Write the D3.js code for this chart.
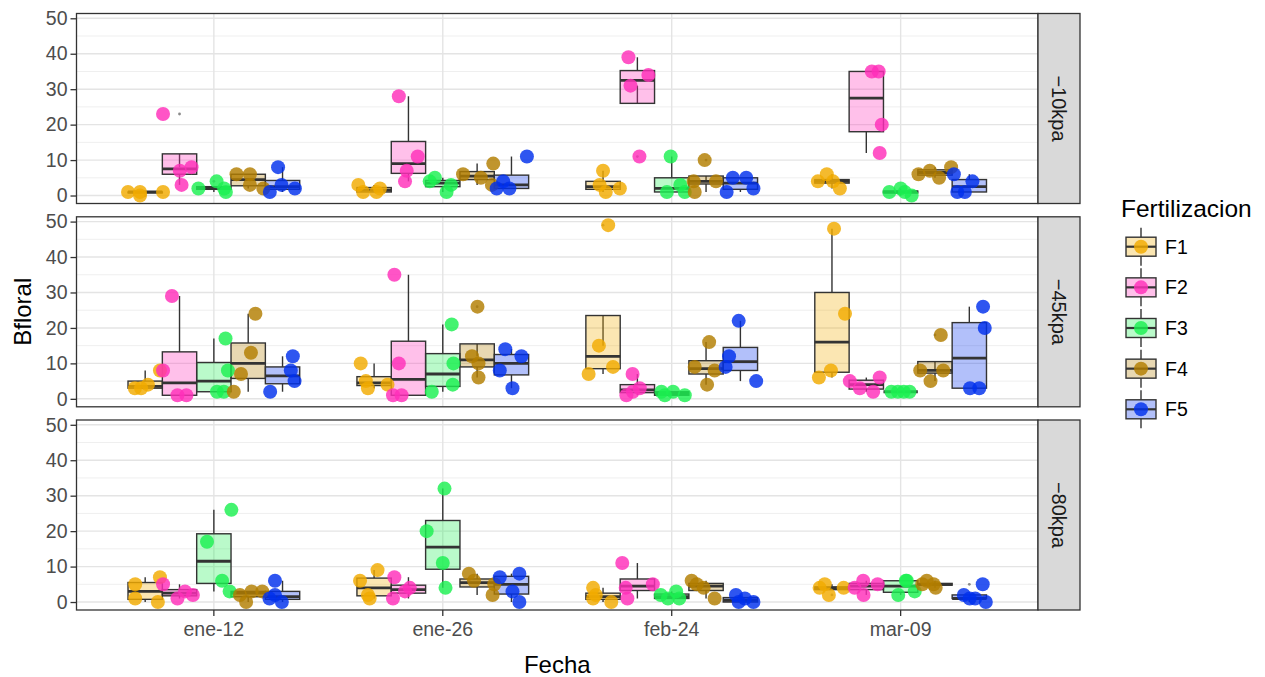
<!DOCTYPE html>
<html>
<head>
<meta charset="utf-8">
<title>Bfloral por fecha</title>
<style>
  body { margin: 0; background: #fff; }
  text { font-family: "Liberation Sans", Arial, sans-serif; }
</style>
</head>
<body>
<div id="chart"></div>
<script src="https://cdn.jsdelivr.net/npm/d3@7"></script>
<script>

// categories
var fechas = ["ene-12", "ene-26", "feb-24", "mar-09"];
var fertis = ["F1", "F2", "F3", "F4", "F5"];
var paneles = ["\u221210kpa", "\u221245kpa", "\u221280kpa"];
var yTicks = [0, 10, 20, 30, 40, 50];
var yMinor = [5, 15, 25, 35, 45];
var colores = ["#F2AB00", "#FF2EBA", "#1BF051", "#B27E00", "#0030ED"];

// Bfloral values, [fecha][F1..F5]
var bf10 = [
  [[1, 1, 0, 1], [23, 7, 8, 3], [2, 4, 1, 2], [6, 6, 3, 2], [8, 1, 3, 2]],
  [[3, 1, 1, 2], [28, 11, 7, 4], [5, 3, 1, 4], [6, 9, 5, 3], [11, 4, 2, 2]],
  [[7, 1, 2, 3], [39, 34, 31, 11], [11, 1, 3, 1], [10, 4, 1, 4], [5, 5, 1, 2]],
  [[6, 4, 4, 2], [35, 35, 20, 12], [1, 2, 0, 1], [6, 7, 5, 8], [6, 4, 1, 1]]
];
var bf45 = [
  [[3, 4, 8, 3], [29, 1, 1, 8], [17, 8, 2, 2], [24, 13, 7, 2], [12, 8, 5, 2]],
  [[10, 5, 3, 4], [35, 10, 1, 1], [21, 10, 4, 2], [26, 12, 10, 6], [14, 12, 8, 3]],
  [[49, 15, 7, 9], [7, 3, 1, 2], [2, 2, 1, 1], [16, 9, 8, 4], [22, 12, 9, 5]],
  [[48, 24, 6, 8], [6, 5, 3, 2], [2, 2, 2, 2], [18, 8, 8, 5], [26, 20, 3, 3]]
];
var bf80 = [
  [[5, 1, 7, 0], [5, 1, 3, 2], [17, 26, 6, 3], [2, 0, 3, 3], [6, 2, 1, 0]],
  [[6, 9, 2, 1], [7, 4, 1, 3], [32, 20, 11, 4], [8, 6, 5, 2], [7, 8, 3, 0]],
  [[4, 1, 0, 2], [11, 4, 1, 5], [2, 3, 1, 1], [6, 4, 1, 5], [2, 0, 0, 1]],
  [[5, 2, 4, 4], [6, 4, 5, 2], [6, 2, 3, 6], [6, 5, 4, 5], [5, 2, 1, 1, 0]]
];

// horizontal jitter of each point, in box widths
var jit10 = [
  [[-0.5, -0.15, -0.15, 0.52], [-0.48, 0.01, 0.35, 0.06], [-0.45, 0.08, 0.35, 0.3], [-0.34, 0.05, 0.05, 0.44], [-0.13, -0.37, -0.03, 0.36]],
  [[-0.46, -0.32, 0.07, 0.17], [-0.28, 0.27, -0.05, -0.1], [-0.23, 0.24, 0.11, -0.38], [-0.41, 0.47, 0.11, 0.43], [0.45, -0.24, -0.43, -0.06]],
  [[0, 0.08, 0.49, -0.1], [-0.26, 0.32, -0.2, 0.06], [-0.03, -0.14, 0.25, 0.38], [-0.04, -0.36, -0.33, 0.29], [-0.22, 0.17, -0.4, 0.38]],
  [[-0.15, -0.41, 0.03, 0.23], [0.16, 0.36, 0.45, 0.39], [-0.33, 0, 0.32, 0.12], [-0.48, -0.15, 0.12, 0.47], [-0.45, 0.09, -0.35, -0.13]]
];
var jit45 = [
  [[-0.12, 0.08, 0.43, -0.3], [-0.22, -0.06, 0.2, -0.48], [0.34, 0.41, 0.09, 0.29], [0.21, 0.08, -0.21, -0.42], [0.3, 0.24, 0.35, -0.36]],
  [[-0.39, -0.24, -0.18, 0.39], [-0.41, -0.28, -0.45, -0.2], [0.26, 0.31, 0.29, -0.32], [0.01, -0.15, 0.04, 0.04], [-0.18, 0.29, -0.34, 0.03]],
  [[0.15, -0.12, -0.42, 0.29], [-0.14, 0.07, -0.32, -0.13], [-0.3, 0.04, 0.38, -0.2], [0.09, -0.33, 0.25, 0.03], [-0.05, -0.33, -0.43, 0.46]],
  [[0.06, 0.38, -0.38, -0.03], [0.39, -0.48, -0.19, 0.2], [-0.27, 0.26, -0.08, 0.09], [0.17, -0.43, 0.24, -0.13], [0.4, 0.45, 0.02, 0.29]]
];
var jit80 = [
  [[-0.29, -0.29, 0.43, 0.37], [-0.48, -0.06, 0.16, 0.39], [-0.2, 0.51, 0.24, 0.46], [-0.24, -0.06, 0.1, 0.41], [-0.22, -0.22, -0.38, -0.02]],
  [[-0.41, 0.1, -0.18, -0.13], [-0.41, 0.04, -0.45, -0.1], [0.05, -0.47, 0, 0.08], [-0.24, -0.09, 0.5, 0.45], [-0.34, 0.23, 0.03, 0.23]],
  [[-0.29, -0.29, 0.24, -0.21], [-0.44, -0.34, -0.29, 0.45], [-0.32, 0.13, 0.22, -0.11], [-0.42, -0.07, 0.25, -0.27], [-0.13, -0.05, 0.38, 0.13]],
  [[-0.21, -0.09, 0.34, -0.36], [-0.09, -0.34, 0.33, -0.08], [0.18, -0.07, 0.41, 0.15], [-0.24, -0.04, 0.02, -0.37], [0.39, -0.16, 0.17, 0.01, 0.48]]
];

var valores = [bf10, bf45, bf80];
var jitters = [jit10, jit45, jit80];

// layout
var W = 1265, H = 677;
var pLeft = 76.5, pRight = 1038;
var panelH = 190, panelTops = [13.5, 216.8, 420];
var stripW = 42;
var ptR = 7;

var svg = d3.select('#chart').append('svg')
  .attr('width', W)
  .attr('height', H);

var x = d3.scaleBand()
  .domain(fechas)
  .range([pLeft, pRight])
  .paddingInner(0)
  .paddingOuter(0.1);

var step = x.step();
var xd = d3.scaleBand()
  .domain(fertis)
  .range([-0.375 * step, 0.375 * step]);
var bw = xd.bandwidth();

function boxStats(v) {
  var s = v.slice().sort(d3.ascending);
  var q1 = d3.quantile(s, 0.25), med = d3.quantile(s, 0.5), q3 = d3.quantile(s, 0.75);
  var iqr = q3 - q1;
  var inside = s.filter(d => d >= q1 - 1.5 * iqr && d <= q3 + 1.5 * iqr);
  return {
    q1: q1, med: med, q3: q3,
    lo: d3.min(inside), hi: d3.max(inside),
    out: s.filter(d => d < q1 - 1.5 * iqr || d > q3 + 1.5 * iqr)
  };
}

panelTops.forEach(function(top, p) {
  var y = d3.scaleLinear()
    .domain([-2.25, 51.35])
    .range([top + panelH, top]);

  var g = svg.append('g');

  // grid
  g.selectAll('line.minor').data(yMinor).enter().append('line')
    .attr('x1', pLeft).attr('x2', pRight)
    .attr('y1', d => y(d)).attr('y2', d => y(d))
    .attr('stroke', '#EFEFEF').attr('stroke-width', 1);
  g.selectAll('line.major').data(yTicks).enter().append('line')
    .attr('x1', pLeft).attr('x2', pRight)
    .attr('y1', d => y(d)).attr('y2', d => y(d))
    .attr('stroke', '#E4E4E4').attr('stroke-width', 1.4);
  g.selectAll('line.vmajor').data(fechas).enter().append('line')
    .attr('x1', d => x(d) + x.bandwidth() / 2).attr('x2', d => x(d) + x.bandwidth() / 2)
    .attr('y1', top).attr('y2', top + panelH)
    .attr('stroke', '#E4E4E4').attr('stroke-width', 1.4);

  // boxes
  fechas.forEach(function(f, i) {
    fertis.forEach(function(ft, k) {
      var st = boxStats(valores[p][i][k]);
      var cx = x(f) + x.bandwidth() / 2 + xd(ft) + bw / 2;
      var bg = g.append('g');
      bg.append('line')
        .attr('x1', cx).attr('x2', cx)
        .attr('y1', y(st.hi)).attr('y2', y(st.q3))
        .attr('stroke', '#333').attr('stroke-width', 1.4);
      bg.append('line')
        .attr('x1', cx).attr('x2', cx)
        .attr('y1', y(st.q1)).attr('y2', y(st.lo))
        .attr('stroke', '#333').attr('stroke-width', 1.4);
      bg.append('rect')
        .attr('x', cx - bw / 2).attr('width', bw)
        .attr('y', y(st.q3)).attr('height', Math.max(0, y(st.q1) - y(st.q3)))
        .attr('fill', colores[k]).attr('fill-opacity', 0.3)
        .attr('stroke', '#333').attr('stroke-width', 1.4);
      bg.append('line')
        .attr('x1', cx - bw / 2).attr('x2', cx + bw / 2)
        .attr('y1', y(st.med)).attr('y2', y(st.med))
        .attr('stroke', '#333').attr('stroke-width', 2.8);
      bg.selectAll('circle').data(st.out).enter().append('circle')
        .attr('cx', cx).attr('cy', d => y(d))
        .attr('r', 1.4).attr('fill', '#8a8a8a');
    });
  });

  // jittered points
  fechas.forEach(function(f, i) {
    fertis.forEach(function(ft, k) {
      var cx = x(f) + x.bandwidth() / 2 + xd(ft) + bw / 2;
      var vals = valores[p][i][k];
      g.selectAll(null).data(vals).enter().append('circle')
        .attr('cx', (d, j) => cx + jitters[p][i][k][j] * bw)
        .attr('cy', d => y(d))
        .attr('r', ptR)
        .attr('fill', colores[k])
        .attr('fill-opacity', 0.82);
    });
  });

  // panel border
  g.append('rect')
    .attr('x', pLeft).attr('y', top)
    .attr('width', pRight - pLeft).attr('height', panelH)
    .attr('fill', 'none').attr('stroke', '#333').attr('stroke-width', 1.3);

  // strip
  g.append('rect')
    .attr('x', pRight).attr('y', top)
    .attr('width', stripW).attr('height', panelH)
    .attr('fill', '#D9D9D9').attr('stroke', '#333').attr('stroke-width', 1.3);
  g.append('text')
    .attr('transform', `translate(${pRight + stripW / 2}, ${top + panelH / 2}) rotate(90)`)
    .attr('text-anchor', 'middle')
    .attr('dy', '0.35em')
    .attr('fill', '#1A1A1A')
    .style('font-size', '20px')
    .text(paneles[p]);

  // y axis
  var yAxis = d3.axisLeft(y)
    .tickValues(yTicks)
    .tickSize(6)
    .tickPadding(3);
  var gy = g.append('g')
    .attr('transform', `translate(${pLeft}, 0)`)
    .call(yAxis);
  gy.select('.domain').remove();
  gy.selectAll('line').attr('stroke', '#333').attr('stroke-width', 1.3);
  gy.selectAll('text')
    .attr('fill', '#4D4D4D')
    .style('font-size', '19.5px')
    .style('font-family', '"Liberation Sans", Arial, sans-serif');
});

// x axis under the last panel
var bottom = panelTops[2] + panelH;
var xAxis = d3.axisBottom(x).tickSize(6).tickPadding(6);
var gx = svg.append('g')
  .attr('transform', `translate(0, ${bottom})`)
  .call(xAxis);
gx.select('.domain').remove();
gx.selectAll('line').attr('stroke', '#333').attr('stroke-width', 1.3);
gx.selectAll('text')
  .attr('fill', '#4D4D4D')
  .style('font-size', '19.5px')
  .style('font-family', '"Liberation Sans", Arial, sans-serif');

// axis titles
svg.append('text')
  .attr('x', (pLeft + pRight) / 2).attr('y', 673)
  .attr('text-anchor', 'middle')
  .style('font-size', '24px')
  .text('Fecha');
svg.append('text')
  .attr('transform', `translate(31, ${(panelTops[0] + bottom) / 2}) rotate(-90)`)
  .attr('text-anchor', 'middle')
  .style('font-size', '24px')
  .text('Bfloral');

// legend
var leg = svg.append('g');
leg.append('text')
  .attr('x', 1121).attr('y', 217)
  .style('font-size', '24.5px')
  .text('Fertilizacion');

var keyY = d3.scalePoint().domain(fertis).range([246.7, 409.3]);
var keyX = 1141;
fertis.forEach(function(ft, k) {
  var cy = keyY(ft);
  var kg = leg.append('g');
  kg.append('line')
    .attr('x1', keyX).attr('x2', keyX)
    .attr('y1', cy - 19).attr('y2', cy + 19)
    .attr('stroke', '#333').attr('stroke-width', 1.4);
  kg.append('rect')
    .attr('x', keyX - 15).attr('y', cy - 9.5)
    .attr('width', 30).attr('height', 19)
    .attr('fill', '#fff');
  kg.append('rect')
    .attr('x', keyX - 15).attr('y', cy - 9.5)
    .attr('width', 30).attr('height', 19)
    .attr('fill', colores[k]).attr('fill-opacity', 0.3)
    .attr('stroke', '#333').attr('stroke-width', 1.4);
  kg.append('line')
    .attr('x1', keyX - 15).attr('x2', keyX + 15)
    .attr('y1', cy).attr('y2', cy)
    .attr('stroke', '#333').attr('stroke-width', 2.2);
  kg.append('circle')
    .attr('cx', keyX).attr('cy', cy).attr('r', ptR)
    .attr('fill', colores[k]).attr('fill-opacity', 0.82);
  kg.append('text')
    .attr('x', 1165).attr('y', cy)
    .attr('dy', '0.36em')
    .style('font-size', '19.5px')
    .text(ft);
});

</script>
</body>
</html>
